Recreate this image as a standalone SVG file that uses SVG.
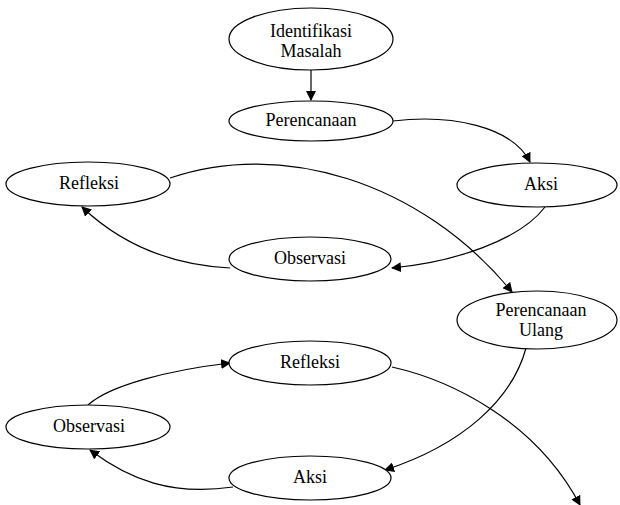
<svg xmlns="http://www.w3.org/2000/svg" width="620" height="505" viewBox="0 0 620 505">
<style>
.n ellipse{fill:#fff;stroke:#000;stroke-width:1.2}
.n text{font-family:'Liberation Serif','Times New Roman','DejaVu Serif',serif;font-size:18px;fill:#000;text-anchor:middle}
.c path{fill:none;stroke:#000;stroke-width:1.2;marker-end:url(#ah)}
</style>
<defs>
<marker id="ah" viewBox="0 0 10 10" refX="9" refY="5" markerWidth="10" markerHeight="10" markerUnits="userSpaceOnUse" orient="auto">
<path d="M0,0 L10,5 L0,10 z" fill="#000"/>
</marker>
</defs>
<rect width="620" height="505" fill="#fff"/>
<g id="connectors" class="c">
<path d="M311,70 L311,100"/>
<path d="M393,121 C450,114 512,126 530,162"/>
<path d="M545,207 C520,240 455,262 392,268"/>
<path d="M230,268 C172,265 122,245 82,207"/>
<path d="M170,178 C280,140 420,180 512,292"/>
<path d="M526,348 C512,400 462,445 385,470"/>
<path d="M233,487 C172,496 130,480 90,450"/>
<path d="M88,405 C110,385 170,370 230,363"/>
<path d="M392,367 C450,380 535,420 580,505"/>
</g>
<g id="identifikasi" class="n"><ellipse cx="311" cy="39" rx="82" ry="31"/><text x="311" y="37">Identifikasi</text><text x="311" y="57">Masalah</text></g>
<g id="perencanaan" class="n"><ellipse cx="311" cy="121" rx="82" ry="20"/><text x="311" y="126">Perencanaan</text></g>
<g id="aksi1" class="n"><ellipse cx="537" cy="185" rx="80" ry="22"/><text x="541" y="190">Aksi</text></g>
<g id="refleksi1" class="n"><ellipse cx="88" cy="184" rx="82" ry="22"/><text x="89" y="189">Refleksi</text></g>
<g id="observasi1" class="n"><ellipse cx="310" cy="259" rx="81" ry="22"/><text x="310" y="264">Observasi</text></g>
<g id="perencanaan-ulang" class="n"><ellipse cx="537" cy="320" rx="80" ry="29"/><text x="541" y="316">Perencanaan</text><text x="541" y="336">Ulang</text></g>
<g id="refleksi2" class="n"><ellipse cx="310" cy="363" rx="81" ry="22"/><text x="310" y="368">Refleksi</text></g>
<g id="observasi2" class="n"><ellipse cx="88" cy="427" rx="82" ry="22"/><text x="89" y="432">Observasi</text></g>
<g id="aksi2" class="n"><ellipse cx="310" cy="478" rx="81" ry="22"/><text x="310" y="483">Aksi</text></g>
</svg>
